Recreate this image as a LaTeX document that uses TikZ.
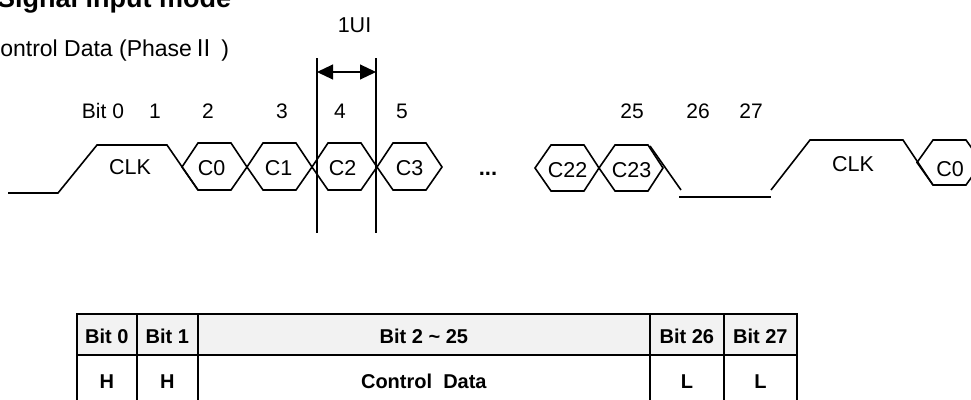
\documentclass[tikz,border=0pt]{standalone}
\usepackage{fontspec}
\setmainfont{Liberation Sans}
\newfontfamily\cjk{Noto Sans CJK SC}
\usetikzlibrary{arrows.meta}
\definecolor{hdrgray}{HTML}{F2F2F2}
\begin{document}
\begin{tikzpicture}[x=1pt,y=-1pt,
  wave/.style={line width=1.6pt, line join=miter},
  guide/.style={line width=1.1pt},
  lbl/.style={anchor=base, inner sep=0pt, font=\fontsize{21.5}{25}\selectfont},
  bitlbl/.style={anchor=base, inner sep=0pt, font=\fontsize{21}{25}\selectfont},
  cell/.style={draw, line width=1.7pt, inner sep=0pt, anchor=north west,
    font=\bfseries\fontsize{20}{24}\selectfont, text height=19pt, text depth=0pt},
  hcell/.style={cell, fill=hdrgray}]
\useasboundingbox (0,0) rectangle (971,399);
% titles
\node[anchor=base west, inner sep=0pt, font=\bfseries\fontsize{27}{31}\selectfont] (title) at (-3,7.5) {Signal input mode};
\node[anchor=base west, inner sep=0pt, font=\fontsize{23}{27}\selectfont] (sub) at (-16.5,56) {Control Data (Phase{\cjk Ⅱ} )};
% 1UI marker
\node[lbl] (ui) at (354.5,32) {1UI};
\coordinate (v1t) at (317,58); \coordinate (v1b) at (317,233);
\coordinate (v2t) at (376,58); \coordinate (v2b) at (376,233);
\draw[guide] (v1t) -- (v1b);
\draw[guide] (v2t) -- (v2b);
\coordinate (a1) at (317,72); \coordinate (a2) at (376,72);
\draw[guide, {Triangle[length=16pt,width=15pt]}-{Triangle[length=16pt,width=15pt]}] (a1) -- (a2);
% bit labels
\node[bitlbl] (b0) at (103,118) {Bit 0};
\node[bitlbl] (b1) at (155,118) {1};
\node[bitlbl] (b2) at (208,118) {2};
\node[bitlbl] (b3) at (282,118) {3};
\node[bitlbl] (b4) at (340,118) {4};
\node[bitlbl] (b5) at (402,118) {5};
\node[bitlbl] (b25) at (632,118) {25};
\node[bitlbl] (b26) at (698,118) {26};
\node[bitlbl] (b27) at (751,118) {27};
% first clock
\draw[wave] (8,193) -- (58,193) -- (97,145) -- (167,145) -- (198,190);
\node[lbl] (clk1) at (130,174) {CLK};
% data hexagons
\foreach \x/\lab/\dx in {182/C0/-3,247/C1/-1,312/C2/-2,377/C3/0}{
  \draw[wave] (\x,167) -- (\x+16,143) -- (\x+49,143) -- (\x+65,167) -- (\x+49,190) -- (\x+16,190) -- cycle;
  \node[lbl] (h\lab) at (\x+32.5+\dx,175) {\lab};
}
\node[anchor=base, inner sep=0pt, font=\bfseries\fontsize{22}{26}\selectfont] (dots) at (488,175) {...};
\foreach \x/\lab in {535/C22,599/C23}{
  \draw[wave] (\x,168) -- (\x+16,145) -- (\x+49,145) -- (\x+64,168) -- (\x+49,191) -- (\x+16,191) -- cycle;
  \node[lbl] (h\lab) at (\x+32.5,177) {\lab};
}
% tail: low, second clock, next C0
\draw[wave] (650,146) -- (681,190);
\draw[wave] (679,197) -- (771,197);
\draw[wave] (771,190) -- (810,140) -- (903,140) -- (933,185);
\node[lbl] (clk2) at (853,171) {CLK};
\draw[wave] (917,162.5) -- (933,140) -- (966,140) -- (982,162.5) -- (966,185) -- (933,185) -- cycle;
\node[lbl] (hC0b) at (950,176) {C0};
% table
\node[hcell, minimum width=60pt, minimum height=41pt] (t00) at (76,313) {Bit 0};
\node[hcell, minimum width=61pt, minimum height=41pt] (t01) at (136,313) {Bit 1};
\node[hcell, minimum width=452pt, minimum height=41pt] (t02) at (197,313) {Bit 2 \textasciitilde{} 25};
\node[hcell, minimum width=74pt, minimum height=41pt] (t03) at (649,313) {Bit 26};
\node[hcell, minimum width=73pt, minimum height=41pt] (t04) at (723,313) {Bit 27};
\node[cell, minimum width=60pt, minimum height=47pt, text height=20pt] (t10) at (76,354) {H};
\node[cell, minimum width=61pt, minimum height=47pt, text height=20pt] (t11) at (136,354) {H};
\node[cell, minimum width=452pt, minimum height=47pt, text height=20pt] (t12) at (197,354) {Control\ \ Data};
\node[cell, minimum width=74pt, minimum height=47pt, text height=20pt] (t13) at (649,354) {L};
\node[cell, minimum width=73pt, minimum height=47pt, text height=20pt] (t14) at (723,354) {L};
\end{tikzpicture}
\end{document}
